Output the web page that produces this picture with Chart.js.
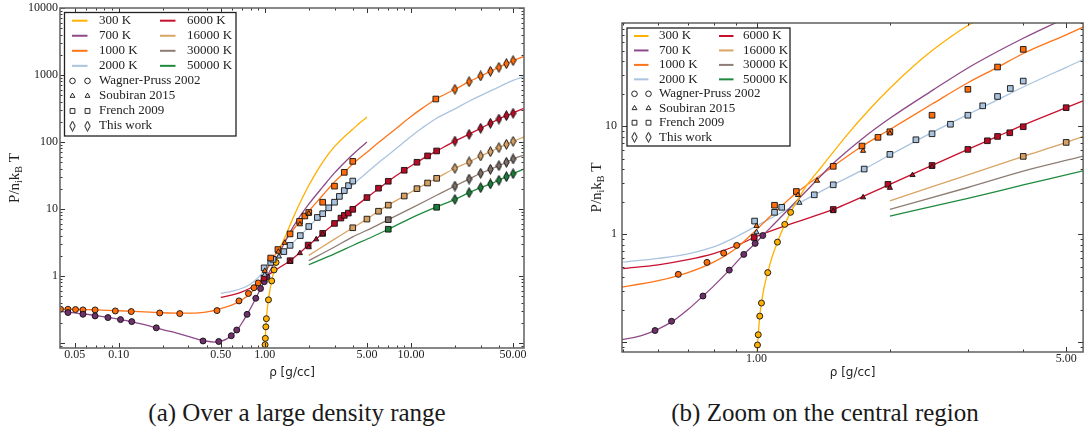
<!DOCTYPE html>
<html>
<head>
<meta charset="utf-8">
<script src="https://cdn.jsdelivr.net/npm/chart.js@4.4.1/dist/chart.umd.min.js"></script>
<style>
  body { margin: 0; background: #fff; width: 1088px; height: 437px; position: relative; overflow: hidden; }
  .panel { position: absolute; top: 0; width: 544px; height: 390px; }
  #wrapA { left: 0; }
  #wrapB { left: 544px; }
  .caption { position: absolute; top: 399px; font-family: "Liberation Serif", "DejaVu Serif", serif; font-size: 25px; line-height: 28px;
             color: #1a1a1a; white-space: nowrap; transform: translateX(-50%); }
</style>
</head>
<body>
<div class="panel" id="wrapA"><canvas id="chartA"></canvas></div>
<div class="panel" id="wrapB"><canvas id="chartB"></canvas></div>
<div class="caption" style="left:297px">(a) Over a large density range</div>
<div class="caption" style="left:825px">(b) Zoom on the central region</div>
<script>
// isotherms: density rho [g/cc] -> P/(n_i k_B T)
const rho300 = [1.0, 1.005, 1.009, 1.017, 1.026, 1.04, 1.06, 1.085, 1.115, 1.158, 1.194, 1.25, 1.3, 1.4, 1.6, 1.8, 2.0, 2.25, 2.5, 2.75, 3.0, 3.5, 4.0, 4.5, 5.0];
const p300   = [0.06, 0.094, 0.117, 0.174, 0.23, 0.32, 0.44, 0.62, 0.843, 1.23, 1.59, 2.21, 2.85, 4.16, 8.26, 14.3, 22.4, 35.2, 50.5, 67.4, 85.3, 120, 155, 195, 235];

const rho700 = [0.04, 0.05, 0.06, 0.07, 0.085, 0.1, 0.12, 0.15, 0.2, 0.25, 0.3, 0.35, 0.4, 0.45, 0.5, 0.55, 0.6, 0.65, 0.7, 0.757, 0.8, 0.868, 0.936, 1.0, 1.033, 1.1, 1.2, 1.3, 1.4, 1.48, 1.73, 2.0, 2.5, 3.0, 3.5, 4.0, 4.5, 5.0];
const p700   = [0.295, 0.28, 0.268, 0.256, 0.24, 0.226, 0.21, 0.187, 0.158, 0.14, 0.125, 0.113, 0.106, 0.103, 0.106, 0.115, 0.132, 0.158, 0.2, 0.267, 0.33, 0.464, 0.649, 0.84, 0.97, 1.26, 1.82, 2.55, 3.48, 4.4, 7.6, 11.8, 21.5, 34.5, 49, 65, 82, 100];

const rho1000 = [0.04, 0.05, 0.07, 0.1, 0.15, 0.2, 0.27, 0.35, 0.42, 0.5, 0.6, 0.7, 0.8, 0.9, 1.0, 1.1, 1.23, 1.49, 1.73, 2.0, 2.49, 3.0, 3.5, 4.0, 5.0, 6.0, 7.0, 8.0, 10, 12, 14.8, 20, 25, 30, 35, 40, 45, 50, 60];
const p1000   = [0.32, 0.318, 0.312, 0.302, 0.29, 0.282, 0.278, 0.281, 0.295, 0.325, 0.37, 0.44, 0.55, 0.74, 1.1, 1.6, 2.4, 4.24, 6.5, 9.3, 16.0, 25.2, 35, 47, 70, 98, 128, 162, 240, 320, 435, 612, 794, 966, 1135, 1301, 1475, 1636, 1900];

const rho2000 = [0.5, 0.6, 0.7, 0.8, 0.9, 1.0, 1.15, 1.35, 1.5, 1.75, 2.0, 2.5, 3.0, 3.5, 4.0, 5.0, 6.0, 7.0, 8.0, 10, 12, 14.8, 20, 25, 30, 35, 40, 45, 50, 60];
const p2000   = [0.55, 0.595, 0.655, 0.76, 0.945, 1.19, 1.62, 2.31, 2.9, 4.0, 5.4, 8.8, 12.8, 17.5, 23, 35, 49, 64, 81, 121, 163, 222, 312, 405, 492, 578, 662, 750, 830, 960];

const rho6000 = [0.5, 0.6, 0.7, 0.8, 0.9, 1.0, 1.2, 1.49, 2.0, 2.49, 3.0, 3.5, 4.0, 5.0, 6.0, 7.0, 9.0, 11, 13, 15, 20, 25, 30, 35, 40, 45, 50, 60];
const p6000   = [0.48, 0.52, 0.58, 0.66, 0.78, 0.95, 1.25, 1.69, 2.89, 4.32, 6.08, 8.02, 10.2, 14.8, 20.0, 25.9, 37.8, 49.8, 62, 73.4, 103, 131, 160, 190, 220, 247, 272, 320];

const rho16000 = [2.0, 3.0, 4.0, 5.0, 6.0, 7.0, 9.0, 11, 13, 15, 20, 25, 30, 35, 40, 45, 50, 60];
const p16000   = [2.03, 3.54, 5.24, 7.06, 9.25, 11.4, 15.6, 20.1, 24.4, 28.7, 40.5, 50.3, 61.8, 71.6, 82.2, 92.3, 102, 120];

const rho30000 = [2.0, 3.0, 4.0, 5.46, 7.0, 10, 15, 20, 25, 30, 35, 40, 45, 50, 60];
const p30000   = [1.69, 2.7, 3.83, 5.27, 6.92, 10.2, 16.0, 22.0, 28.0, 34.1, 39.1, 44.3, 49.8, 55.7, 64];

const rho50000 = [2.0, 3.0, 4.0, 5.46, 7.0, 10, 14.8, 20, 25, 30, 35, 40, 45, 50, 60];
const p50000   = [1.47, 2.14, 2.85, 3.85, 4.98, 7.3, 10.6, 13.9, 17.5, 20.8, 23.6, 26.8, 30.3, 33.6, 40];

// Wagner-Pruss 2002 (circles)
const wpRho300 = [1.005, 1.009, 1.017, 1.026, 1.06, 1.115, 1.158, 1.194];
const wpP300   = [0.094, 0.117, 0.174, 0.23, 0.44, 0.843, 1.23, 1.59];
const wpRho700 = [0.045, 0.057, 0.069, 0.0845, 0.103, 0.123, 0.181, 0.378, 0.484, 0.59, 0.643, 0.757, 0.868, 0.936, 0.993, 1.033];
const wpP700   = [0.284, 0.268, 0.253, 0.239, 0.223, 0.208, 0.168, 0.107, 0.105, 0.128, 0.156, 0.267, 0.464, 0.649, 0.82, 0.97];
const wpRho1000 = [0.04, 0.045, 0.0507, 0.057, 0.069, 0.0949, 0.122, 0.191, 0.262, 0.471, 0.666, 0.773, 0.843, 0.902];
const wpP1000   = [0.318, 0.318, 0.315, 0.311, 0.311, 0.30, 0.294, 0.28, 0.274, 0.304, 0.424, 0.547, 0.667, 0.786];

// Soubiran 2015 (triangles)
const soRho1000 = [1.0, 1.24, 1.37, 1.74, 2.0];
const soP1000   = [1.19, 2.3, 3.12, 5.9, 8.55];
const soRho2000 = [1.0, 1.25];
const soP2000   = [1.04, 1.95];
const soRho6000 = [1.49, 1.74, 2.0, 2.25, 2.49];
const soP6000   = [1.63, 2.19, 2.68, 3.52, 4.2];

// French 2009 (squares)
const frRho1000 = [1.098, 1.23, 1.49, 1.73, 1.88, 2.0, 2.49, 3.0, 3.5, 4.0, 14.8];
const frP1000   = [1.85, 2.48, 4.24, 6.53, 7.86, 8.86, 12.6, 21.9, 35.2, 51.3, 438];
const frRho2000 = [0.99, 1.098, 1.14, 1.35, 1.49, 1.75, 2.0, 2.29, 2.49, 2.74, 3.0, 3.24, 3.5, 3.74, 4.0];
const frP2000   = [1.32, 1.59, 1.77, 2.31, 2.86, 4.0, 5.47, 7.47, 8.49, 10.4, 12.6, 15.4, 18.8, 22.3, 26.1];
const frRho6000 = [0.988, 1.49, 1.98, 2.49, 3.0, 3.32, 3.5, 3.73, 4.0, 5.0, 6.0, 7.0, 9.0, 11, 13, 15];
const frP6000   = [0.93, 1.69, 2.89, 4.32, 6.08, 7.31, 8.02, 8.67, 9.86, 14.8, 20.4, 25.9, 37.8, 49.8, 62, 73.4];
const frRho16000 = [4, 5, 6, 7, 9, 11, 13, 15];
const frP16000   = [5.24, 7.06, 9.25, 11.4, 15.6, 20.1, 24.4, 28.7];
const frRho30000 = [7];
const frP30000   = [6.92];
const frRho50000 = [7, 15];
const frP50000   = [4.98, 10.6];

// This work (thin diamonds)
const twRho = [20, 25, 30, 35, 40, 45, 50];
const twP1000  = [612, 794, 966, 1135, 1301, 1475, 1636];
const twP6000  = [103, 130, 160, 190, 220, 247, 268];
const twP16000 = [40.5, 50.3, 61.8, 71.6, 82.2, 92.3, 102];
const twP30000 = [22.0, 28.0, 34.1, 39.1, 44.3, 49.8, 55.7];
const twP50000 = [13.9, 17.5, 20.8, 23.6, 26.8, 30.3, 33.6];

const tempLabels = ['300 K', '700 K', '1000 K', '2000 K', '6000 K', '16000 K', '30000 K', '50000 K'];
const sourceLabels = ['Wagner-Pruss 2002', 'Soubiran 2015', 'French 2009', 'This work'];

// ticks
const xMajorA = [0.05, 0.1, 0.5, 1, 5, 10, 50];
const xLabelsA = ['0.05', '0.10', '0.50', '1.00', '5.00', '10.00', '50.00'];
const xMinorA = [0.06, 0.07, 0.08, 0.09, 0.2, 0.3, 0.4, 0.6, 0.7, 0.8, 0.9, 2, 3, 4, 6, 7, 8, 9, 20, 30, 40];
const yMajorA = [0.1, 1, 10, 100, 1000, 10000];
const yLabelsA = ['', '1', '10', '100', '1000', '10000'];
const xMajorB = [1, 5];
const xLabelsB = ['1.00', '5.00'];
const xMinorB = [0.5, 0.6, 0.7, 0.8, 0.9, 2, 3, 4];
const yMajorB = [0.1, 1, 10];
const yLabelsB = ['', '1', '10'];

const decadeMinor = [];
[0.01, 0.1, 1, 10, 100, 1000].forEach(d => { for (let k = 2; k <= 9; k++) decadeMinor.push(+(k * d).toPrecision(3)); });

const SERIF = '"Liberation Serif", "DejaVu Serif", serif';

const C = {
  t300: '#ffb000', t700: '#8e4a88', t1000: '#ff7418', t2000: '#aac4df',
  t6000: '#c8102e', t16000: '#d9a465', t30000: '#8d7d74', t50000: '#1f8a3e'
};
const lineColors = [C.t300, C.t700, C.t1000, C.t2000, C.t6000, C.t16000, C.t30000, C.t50000];

function pts(xs, ys) { return xs.map((x, i) => ({x: x, y: ys[i]})); }

function thinDiamond(fill) {
  const c = document.createElement('canvas');
  c.width = 7; c.height = 11;
  const g = c.getContext('2d');
  g.beginPath();
  g.moveTo(3.5, 0.6); g.lineTo(6.2, 5.5); g.lineTo(3.5, 10.4); g.lineTo(0.8, 5.5); g.closePath();
  g.fillStyle = fill; g.fill();
  g.strokeStyle = '#111'; g.lineWidth = 1; g.stroke();
  return c;
}

function markers(xs, ys, style, fill, radius) {
  return { data: pts(xs, ys), showLine: false, pointStyle: style, pointRadius: radius,
           pointBackgroundColor: fill, pointBorderColor: '#111', pointBorderWidth: 0.9 };
}
function curve(xs, ys, color) {
  return { data: pts(xs, ys), showLine: true, borderColor: color, borderWidth: 1.3, pointRadius: 0,
           cubicInterpolationMode: 'monotone', fill: false };
}

function buildDatasets() {
  return [
    markers(twRho, twP1000, thinDiamond('#ff6d0a'), '#ff6d0a', 4),
    markers(twRho, twP6000, thinDiamond('#b80c26'), '#b80c26', 4),
    markers(twRho, twP16000, thinDiamond('#d6a062'), '#d6a062', 4),
    markers(twRho, twP30000, thinDiamond('#7e6e66'), '#7e6e66', 4),
    markers(twRho, twP50000, thinDiamond('#1a7d38'), '#1a7d38', 4),
    markers(soRho1000, soP1000, 'triangle', '#ff6d0a', 3),
    markers(soRho2000, soP2000, 'triangle', '#a9c3de', 3),
    markers(soRho6000, soP6000, 'triangle', '#b80c26', 3),
    markers(frRho1000, frP1000, 'rect', '#ff6d0a', 4),
    markers(frRho2000, frP2000, 'rect', '#a9c3de', 4),
    markers(frRho6000, frP6000, 'rect', '#b80c26', 4),
    markers(frRho16000, frP16000, 'rect', '#d6a062', 4),
    markers(frRho30000, frP30000, 'rect', '#7e6e66', 4),
    markers(frRho50000, frP50000, 'rect', '#1a7d38', 4),
    markers(wpRho300, wpP300, 'circle', '#ffb000', 3),
    markers(wpRho700, wpP700, 'circle', '#6e2f6a', 3),
    markers(wpRho1000, wpP1000, 'circle', '#ff6d0a', 3),
    curve(rho300, p300, C.t300),
    curve(rho700, p700, C.t700),
    curve(rho1000, p1000, C.t1000),
    curve(rho2000, p2000, C.t2000),
    curve(rho6000, p6000, C.t6000),
    curve(rho16000, p16000, C.t16000),
    curve(rho30000, p30000, C.t30000),
    curve(rho50000, p50000, C.t50000)
  ];
}

const hollow = ['circle', 'triangle', 'rect', thinDiamond('#fff')];

const framePlugin = {
  id: 'frame',
  afterDraw(chart, args, o) {
    const ctx = chart.ctx, a = chart.chartArea, sx = chart.scales.x, sy = chart.scales.y;
    ctx.save();
    // inward ticks on all four sides
    ctx.strokeStyle = '#333';
    ctx.lineWidth = 1;
    const mark = (scale, vals, len) => {
      vals.forEach(v => {
        if (v < scale.min || v > scale.max) return;
        const p = Math.round(scale.getPixelForValue(v)) + 0.5;
        ctx.beginPath();
        if (scale.isHorizontal()) {
          ctx.moveTo(p, a.bottom); ctx.lineTo(p, a.bottom - len);
          ctx.moveTo(p, a.top); ctx.lineTo(p, a.top + len);
        } else {
          ctx.moveTo(a.left, p); ctx.lineTo(a.left + len, p);
          ctx.moveTo(a.right, p); ctx.lineTo(a.right - len, p);
        }
        ctx.stroke();
      });
    };
    mark(sx, o.xMajor, 5); mark(sx, o.xMinor, 2.5);
    mark(sy, o.yMajor, 5); mark(sy, decadeMinor, 2.5);

    ctx.strokeStyle = o.frameColor;
    ctx.lineWidth = o.frameWidth;
    ctx.strokeRect(a.left, a.top, a.right - a.left, a.bottom - a.top);

    // y axis title with subscripts
    const parts = [['P/n', 0], ['i', 1], ['k', 0], ['B', 1], [' T', 0]];
    const big = '15px ' + SERIF, small = '10px ' + SERIF;
    ctx.translate(o.yTitleX, (a.top + a.bottom) / 2);
    ctx.rotate(-Math.PI / 2);
    let w = 0;
    parts.forEach(p => { ctx.font = p[1] ? small : big; w += ctx.measureText(p[0]).width; });
    let tx = -w / 2;
    ctx.fillStyle = '#222';
    ctx.textBaseline = 'middle';
    parts.forEach(p => {
      ctx.font = p[1] ? small : big;
      ctx.fillText(p[0], tx, p[1] ? 4 : 0);
      tx += ctx.measureText(p[0]).width;
    });
    ctx.setTransform(chart.currentDevicePixelRatio, 0, 0, chart.currentDevicePixelRatio, 0, 0);

    // legend
    const L = o.legend;
    ctx.fillStyle = '#fff';
    ctx.fillRect(L.x, L.y, L.w, L.h);
    ctx.strokeStyle = '#222';
    ctx.lineWidth = 1.3;
    ctx.strokeRect(L.x, L.y, L.w, L.h);
    ctx.font = '13px ' + SERIF;
    ctx.textBaseline = 'middle';
    tempLabels.forEach((t, i) => {
      const col = Math.floor(i / 4), row = i % 4;
      const cy = L.y + L.row0 + row * L.dy;
      const hx = L.cols[col];
      ctx.strokeStyle = lineColors[i];
      ctx.lineWidth = 2;
      ctx.beginPath(); ctx.moveTo(hx, cy); ctx.lineTo(hx + L.hl, cy); ctx.stroke();
      ctx.fillStyle = '#222';
      ctx.fillText(t, hx + L.tx[col], cy);
    });
    sourceLabels.forEach((s, j) => {
      const cy = L.y + L.row0 + (4 + j) * L.dy;
      [L.cols[0] + 0.5, L.cols[0] + L.hl].forEach(mx => {
        ctx.fillStyle = '#fff';
        ctx.strokeStyle = '#111';
        ctx.lineWidth = 0.9;
        Chart.helpers.drawPoint(ctx, { pointStyle: hollow[j], radius: j === 2 ? 3.4 : 2.8, rotation: 0, borderWidth: 0.9 }, mx, cy);
      });
      ctx.fillStyle = '#222';
      ctx.fillText(s, L.cols[0] + L.tx[0], cy);
    });
    ctx.restore();
  }
};

function makeChart(id, cfg) {
  const tickFont = { family: SERIF, size: 12, lineHeight: 1 };
  return new Chart(document.getElementById(id), {
    type: 'scatter',
    data: { datasets: buildDatasets() },
    options: {
      responsive: true, maintainAspectRatio: false, animation: false, events: [],
      layout: { padding: cfg.padding },
      plugins: {
        legend: { display: false }, tooltip: { enabled: false },
        frame: { xMajor: cfg.xMajor, xMinor: cfg.xMinor, yMajor: cfg.yMajor, frameColor: cfg.frameColor,
                 frameWidth: cfg.frameWidth, yTitleX: cfg.yTitleX, legend: cfg.legend }
      },
      scales: {
        x: {
          type: 'logarithmic', min: cfg.xMin, max: cfg.xMax,
          grid: { display: false, drawTicks: false }, border: { display: false },
          afterBuildTicks: s => { s.ticks = cfg.xMajor.map(v => ({ value: v })); },
          afterFit: s => { s.height = cfg.xHeight; },
          ticks: { autoSkip: false, maxRotation: 0, padding: 1, color: '#222', font: tickFont,
                   callback: v => cfg.xLabels[cfg.xMajor.indexOf(v)] || '' },
          title: { display: true, text: 'ρ [g/cc]', color: '#222', font: { family: 'DejaVu Sans', size: 12 },
                   padding: { top: 0, bottom: 10 } }
        },
        y: {
          type: 'logarithmic', min: cfg.yMin, max: cfg.yMax,
          grid: { display: false, drawTicks: false }, border: { display: false },
          afterBuildTicks: s => { s.ticks = cfg.yMajor.map(v => ({ value: v })); },
          afterFit: s => { s.width = cfg.yWidth; },
          ticks: { autoSkip: false, padding: cfg.yPad, color: '#222', font: tickFont,
                   callback: v => cfg.yLabels[cfg.yMajor.indexOf(v)] || '' }
        }
      }
    },
    plugins: [framePlugin]
  });
}

makeChart('chartA', {
  padding: { left: 0, top: 7, right: 20, bottom: 0 },
  xMin: 0.0397, xMax: 59.4, yMin: 0.084, yMax: 10000,
  xMajor: xMajorA, xLabels: xLabelsA, xMinor: xMinorA,
  yMajor: yMajorA, yLabels: yLabelsA,
  xHeight: 42, yWidth: 60, yPad: 2, yTitleX: 15,
  frameColor: '#6a6a6a', frameWidth: 1.6,
  legend: { x: 64.5, y: 12.5, w: 171.5, h: 123.5, row0: 8.2, dy: 15.05, cols: [72, 160], hl: 15.5, tx: [27, 27] }
});

makeChart('chartB', {
  padding: { left: 0, top: 23, right: 3, bottom: 0 },
  xMin: 0.497, xMax: 5.46, yMin: 0.081, yMax: 90,
  xMajor: xMajorB, xLabels: xLabelsB, xMinor: xMinorB,
  yMajor: yMajorB, yLabels: yLabelsB,
  xHeight: 38, yWidth: 78, yPad: 5, yTitleX: 53,
  frameColor: '#555', frameWidth: 1.4,
  legend: { x: 83, y: 28, w: 163, h: 118, row0: 8, dy: 14.45, cols: [90, 175], hl: 14.5, tx: [25, 24] }
});
</script>
</body>
</html>
